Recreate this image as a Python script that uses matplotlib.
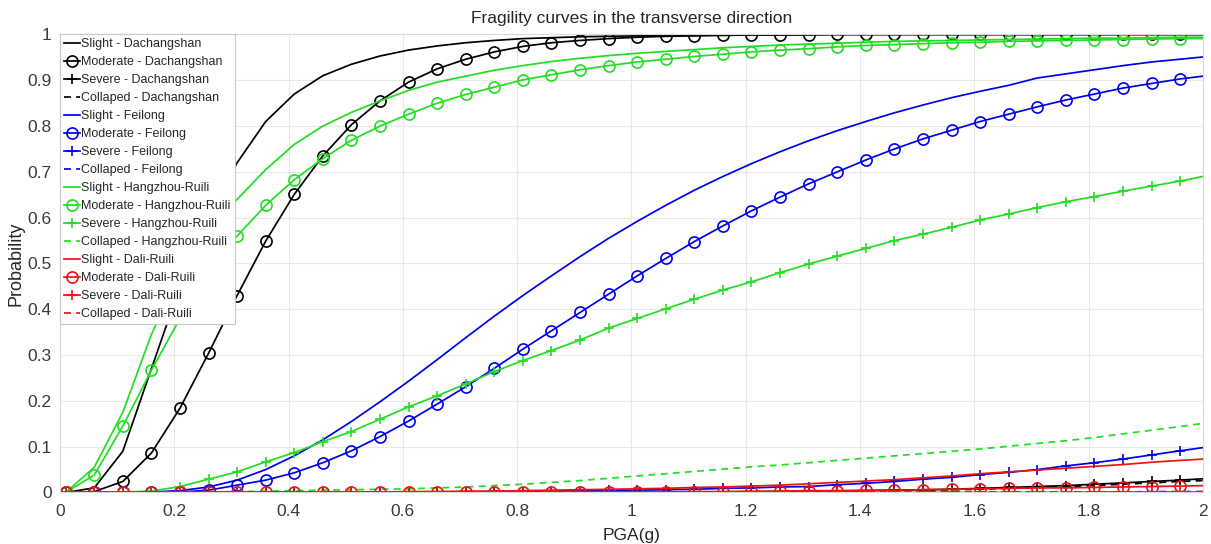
import numpy as np
import matplotlib
matplotlib.use("Agg")
import matplotlib.pyplot as plt

plt.rcParams['font.family'] = ['Liberation Sans', 'DejaVu Sans']

# PGA sample points (g): every 0.05 g from 0.01, plus the end of the range
pga = np.append(np.round(np.arange(0.01, 1.97, 0.05), 2), 2.0)

# ---- Dachangshan ----
dcs_slight = [0, 0.01, 0.09, 0.27, 0.45, 0.60, 0.72, 0.81, 0.87, 0.91,
              0.935, 0.953, 0.966, 0.975, 0.982, 0.987, 0.991, 0.993, 0.995, 0.996,
              0.997, 0.998, 0.998, 0.999, 0.999, 0.999, 1.0, 1.0, 1.0, 1.0,
              1.0, 1.0, 1.0, 1.0, 1.0, 1.0, 1.0, 1.0, 1.0, 1.0, 1.0]
dcs_moderate = [0, 0.002, 0.024, 0.086, 0.184, 0.304, 0.430, 0.549, 0.651, 0.735,
                0.803, 0.855, 0.896, 0.925, 0.946, 0.962, 0.974, 0.982, 0.987, 0.991,
                0.994, 0.996, 0.997, 0.998, 0.999, 0.999, 0.999, 1.0, 1.0, 1.0,
                1.0, 1.0, 1.0, 1.0, 1.0, 1.0, 1.0, 1.0, 1.0, 1.0, 1.0]
dcs_severe = [0, 0, 0, 0, 0, 0, 0, 0, 0, 0,
              0, 0, 0, 0, 0, 0, 0, 0, 0, 0,
              0, 0, 0.001, 0.001, 0.001, 0.002, 0.002, 0.003, 0.004, 0.005,
              0.006, 0.007, 0.009, 0.011, 0.013, 0.015, 0.018, 0.021, 0.024, 0.027, 0.030]
dcs_collapsed = [0, 0, 0, 0, 0, 0, 0, 0, 0, 0,
                 0, 0, 0, 0, 0, 0, 0, 0, 0, 0,
                 0, 0, 0, 0.001, 0.001, 0.001, 0.002, 0.002, 0.003, 0.004,
                 0.005, 0.006, 0.007, 0.009, 0.011, 0.013, 0.015, 0.018, 0.021, 0.024, 0.026]

# ---- Feilong ----
fl_slight = [0, 0, 0, 0.001, 0.004, 0.012, 0.027, 0.050, 0.080, 0.115,
             0.155, 0.198, 0.243, 0.290, 0.338, 0.385, 0.430, 0.473, 0.515, 0.555,
             0.592, 0.627, 0.660, 0.690, 0.718, 0.744, 0.768, 0.790, 0.810, 0.829,
             0.846, 0.862, 0.876, 0.889, 0.905, 0.914, 0.923, 0.932, 0.940, 0.946, 0.951]
fl_moderate = [0, 0, 0, 0, 0.001, 0.005, 0.016, 0.027, 0.043, 0.065,
               0.091, 0.122, 0.156, 0.193, 0.231, 0.271, 0.313, 0.353, 0.393, 0.433,
               0.473, 0.511, 0.548, 0.582, 0.615, 0.645, 0.674, 0.700, 0.726, 0.750,
               0.772, 0.791, 0.810, 0.826, 0.842, 0.857, 0.870, 0.883, 0.893, 0.903, 0.909]
fl_severe = [0, 0, 0, 0, 0, 0, 0, 0, 0, 0,
             0, 0, 0.001, 0.001, 0.001, 0.002, 0.002, 0.003, 0.004, 0.005,
             0.005, 0.006, 0.007, 0.009, 0.010, 0.012, 0.013, 0.017, 0.020, 0.024,
             0.029, 0.033, 0.039, 0.044, 0.050, 0.058, 0.065, 0.073, 0.082, 0.091, 0.098]
fl_collapsed = [0, 0, 0, 0, 0, 0, 0, 0, 0, 0,
                0, 0, 0, 0, 0, 0, 0, 0, 0, 0,
                0, 0, 0, 0, 0, 0, 0, 0, 0, 0,
                0, 0, 0.001, 0.001, 0.001, 0.001, 0.001, 0.001, 0.002, 0.002, 0.002]

# ---- Hangzhou-Ruili ----
hr_slight = [0, 0.055, 0.175, 0.345, 0.480, 0.575, 0.640, 0.705, 0.760, 0.800,
             0.830, 0.855, 0.878, 0.896, 0.909, 0.922, 0.932, 0.941, 0.948, 0.954,
             0.959, 0.963, 0.967, 0.971, 0.974, 0.977, 0.979, 0.981, 0.983, 0.985,
             0.986, 0.987, 0.988, 0.989, 0.990, 0.991, 0.992, 0.992, 0.993, 0.994, 0.994]
hr_moderate = [0, 0.038, 0.145, 0.267, 0.380, 0.475, 0.560, 0.627, 0.683, 0.729,
               0.769, 0.800, 0.826, 0.850, 0.869, 0.885, 0.901, 0.912, 0.923, 0.932,
               0.940, 0.946, 0.952, 0.957, 0.962, 0.966, 0.969, 0.973, 0.976, 0.978,
               0.980, 0.982, 0.983, 0.985, 0.986, 0.987, 0.988, 0.989, 0.990, 0.991, 0.991]
hr_severe = [0, 0, 0.001, 0.003, 0.013, 0.029, 0.045, 0.067, 0.087, 0.111,
             0.133, 0.160, 0.187, 0.211, 0.237, 0.264, 0.288, 0.310, 0.333, 0.359,
             0.380, 0.401, 0.422, 0.442, 0.460, 0.480, 0.499, 0.516, 0.533, 0.550,
             0.564, 0.579, 0.595, 0.608, 0.622, 0.635, 0.646, 0.658, 0.669, 0.680, 0.690]
hr_collapsed = [0, 0, 0, 0, 0, 0.001, 0.002, 0.003, 0.004, 0.005,
                0.006, 0.007, 0.008, 0.010, 0.012, 0.015, 0.018, 0.022, 0.026, 0.031,
                0.036, 0.041, 0.046, 0.051, 0.056, 0.060, 0.065, 0.070, 0.075, 0.080,
                0.085, 0.090, 0.095, 0.101, 0.107, 0.113, 0.120, 0.128, 0.136, 0.144, 0.151]

# ---- Dali-Ruili ----
dr_slight = [0, 0, 0, 0, 0, 0, 0, 0, 0, 0,
             0.001, 0.001, 0.002, 0.002, 0.003, 0.003, 0.004, 0.005, 0.006, 0.007,
             0.008, 0.009, 0.011, 0.012, 0.014, 0.016, 0.019, 0.022, 0.025, 0.028,
             0.032, 0.036, 0.041, 0.045, 0.049, 0.053, 0.057, 0.061, 0.066, 0.070, 0.073]
dr_moderate = [0, 0, 0, 0, 0, 0, 0, 0, 0, 0,
               0, 0, 0, 0, 0, 0, 0, 0, 0, 0.001,
               0.001, 0.001, 0.002, 0.002, 0.003, 0.003, 0.004, 0.004, 0.005, 0.005,
               0.006, 0.007, 0.008, 0.009, 0.010, 0.010, 0.011, 0.012, 0.013, 0.014, 0.015]
dr_severe = [0] * 36 + [0.001, 0.001, 0.001, 0.001, 0.001]
dr_collapsed = [0] * 41

series = [
    ("Slight - Dachangshan", dcs_slight, "k", "-", None),
    ("Moderate - Dachangshan", dcs_moderate, "k", "-", "o"),
    ("Severe - Dachangshan", dcs_severe, "k", "-", "+"),
    ("Collaped - Dachangshan", dcs_collapsed, "k", "--", None),
    ("Slight - Feilong", fl_slight, "#0000ee", "-", None),
    ("Moderate - Feilong", fl_moderate, "#0000ee", "-", "o"),
    ("Severe - Feilong", fl_severe, "#0000ee", "-", "+"),
    ("Collaped - Feilong", fl_collapsed, "#0000ee", "--", None),
    ("Slight - Hangzhou-Ruili", hr_slight, "#22dd22", "-", None),
    ("Moderate - Hangzhou-Ruili", hr_moderate, "#22dd22", "-", "o"),
    ("Severe - Hangzhou-Ruili", hr_severe, "#22dd22", "-", "+"),
    ("Collaped - Hangzhou-Ruili", hr_collapsed, "#22dd22", "--", None),
    ("Slight - Dali-Ruili", dr_slight, "#ee1111", "-", None),
    ("Moderate - Dali-Ruili", dr_moderate, "#ee1111", "-", "o"),
    ("Severe - Dali-Ruili", dr_severe, "#ee1111", "-", "+"),
    ("Collaped - Dali-Ruili", dr_collapsed, "#ee1111", "--", None),
]

fig = plt.figure(figsize=(12.11, 5.44), dpi=100)
ax = fig.add_axes([0.0495, 0.0947, 0.9439, 0.8419])

n_mark = 40
for label, vals, col, ls, mk in series:
    kw = dict(color=col, linestyle=ls, linewidth=1.25, label=label)
    if ls == "--":
        kw["dashes"] = (4, 3)
    if mk is not None:
        kw.update(marker=mk, markevery=slice(0, n_mark), markerfacecolor="none",
                  markeredgecolor=col, markeredgewidth=1.2,
                  markersize=8 if mk == "o" else 7.5)
    ax.plot(pga, vals, **kw)

ax.set_xlim(0, 2)
ax.set_ylim(0, 1)
ax.set_xticks(np.arange(0, 2.01, 0.2))
ax.set_xticklabels(["0", "0.2", "0.4", "0.6", "0.8", "1", "1.2", "1.4", "1.6", "1.8", "2"])
ax.set_yticks(np.arange(0, 1.01, 0.1))
ax.set_yticklabels(["0", "0.1", "0.2", "0.3", "0.4", "0.5", "0.6", "0.7", "0.8", "0.9", "1"])
ax.grid(True, color="#e8e8e8", linewidth=0.8)
ax.set_axisbelow(True)
for s in ax.spines.values():
    s.set_color("#d9d9d9")
    s.set_linewidth(0.8)
ax.tick_params(axis="both", length=0, labelsize=12.5, colors="#3a3a3a")
ax.tick_params(axis="x", pad=8)
ax.tick_params(axis="y", pad=6)

ax.set_xlabel("PGA(g)", fontsize=12.5, color="#262626", labelpad=7)
ax.set_ylabel("Probability", fontsize=13, color="#262626", labelpad=2)
ax.set_title("Fragility curves in the transverse direction", fontsize=12.5,
             color="#262626", pad=8)

leg = ax.legend(loc="upper left", bbox_to_anchor=(0.0, 1.002), borderaxespad=0,
                fontsize=9.0, handlelength=1.25, handletextpad=0.08,
                labelspacing=0.48, borderpad=0.35, fancybox=False,
                framealpha=1, edgecolor="#c8c8c8")
leg.get_frame().set_linewidth(0.8)
for t in leg.get_texts():
    t.set_color("#262626")

fig.savefig("out.png", dpi=100)
